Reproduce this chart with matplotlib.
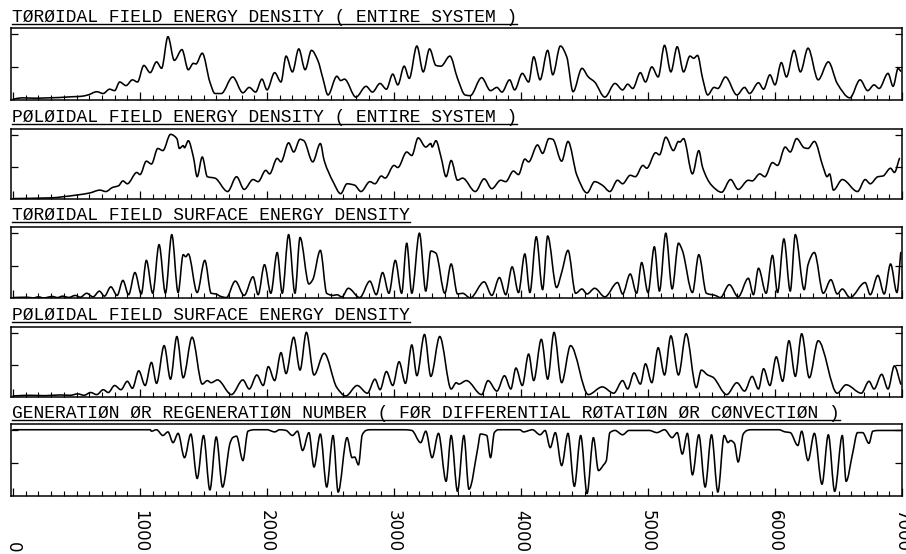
import numpy as np
import matplotlib
matplotlib.use("Agg")
import matplotlib.pyplot as plt
from matplotlib.path import Path
from matplotlib.patches import PathPatch
from matplotlib.lines import Line2D
from matplotlib.transforms import blended_transform_factory

# ---- data (time step, normalised value) ----
t_tor = [0, 70, 170, 280, 370, 460, 530, 590, 660, 710, 760, 800, 840, 890, 940, 980, 1030, 1080,
         1130, 1170, 1220, 1270, 1330, 1380, 1420, 1440, 1490, 1550, 1590, 1640, 1730, 1810, 1860,
         1910, 1960, 2000, 2060, 2110, 2150, 2200, 2250, 2300, 2350, 2400, 2440, 2480, 2550, 2580,
         2610, 2700, 2780, 2830, 2890, 2940, 2990, 3030, 3080, 3120, 3180, 3230, 3280, 3330, 3370,
         3440, 3500, 3560, 3600, 3690, 3760, 3810, 3850, 3910, 3950, 4010, 4060, 4100, 4150, 4210,
         4250, 4310, 4360, 4410, 4480, 4530, 4580, 4660, 4740, 4800, 4840, 4880, 4940, 4980, 5030,
         5080, 5130, 5180, 5230, 5280, 5330, 5360, 5390, 5430, 5470, 5520, 5550, 5610, 5700, 5760,
         5800, 5870, 5910, 5960, 6000, 6050, 6090, 6150, 6200, 6260, 6340, 6420, 6490, 6590, 6670,
         6730, 6780, 6820, 6890, 6930, 6970, 6990]
v_tor = [0.01, 0.03, 0.025, 0.03, 0.035, 0.045, 0.05, 0.07, 0.115, 0.09, 0.15, 0.13, 0.25, 0.20,
         0.28, 0.25, 0.48, 0.38, 0.53, 0.44, 0.88, 0.55, 0.70, 0.42, 0.51, 0.50, 0.65, 0.25, 0.09,
         0.09, 0.32, 0.10, 0.175, 0.11, 0.29, 0.14, 0.38, 0.25, 0.61, 0.39, 0.71, 0.42, 0.69, 0.55,
         0.30, 0.07, 0.33, 0.27, 0.29, 0.04, 0.19, 0.11, 0.23, 0.15, 0.36, 0.21, 0.47, 0.30, 0.75,
         0.39, 0.71, 0.48, 0.47, 0.61, 0.30, 0.07, 0.06, 0.31, 0.13, 0.175, 0.11, 0.28, 0.14, 0.37,
         0.25, 0.60, 0.28, 0.69, 0.35, 0.75, 0.60, 0.115, 0.44, 0.32, 0.25, 0.04, 0.23, 0.14, 0.22,
         0.16, 0.38, 0.25, 0.46, 0.32, 0.76, 0.39, 0.74, 0.39, 0.61, 0.58, 0.62, 0.30, 0.07, 0.175,
         0.16, 0.32, 0.07, 0.175, 0.09, 0.24, 0.15, 0.35, 0.21, 0.52, 0.32, 0.69, 0.39, 0.72, 0.28,
         0.53, 0.23, 0.03, 0.28, 0.13, 0.21, 0.16, 0.37, 0.19, 0.44, 0.40]

t_pol = [0, 290, 500, 605, 684, 730, 786, 830, 865, 900, 975, 1000, 1050, 1090, 1140, 1180, 1240,
         1290, 1310, 1340, 1350, 1380, 1420, 1450, 1490, 1530, 1590, 1690, 1760, 1820, 1890, 1930,
         1990, 2020, 2080, 2110, 2170, 2210, 2260, 2290, 2360, 2420, 2450, 2520, 2580, 2630, 2690,
         2740, 2810, 2850, 2900, 2930, 3000, 3030, 3100, 3140, 3190, 3250, 3290, 3300, 3330, 3370,
         3410, 3450, 3500, 3540, 3640, 3710, 3770, 3840, 3880, 3940, 3980, 4030, 4060, 4130, 4170,
         4220, 4250, 4320, 4370, 4440, 4520, 4580, 4640, 4700, 4760, 4800, 4860, 4900, 4960, 4990,
         5060, 5090, 5140, 5200, 5240, 5250, 5280, 5350, 5400, 5430, 5500, 5580, 5650, 5710, 5790,
         5820, 5880, 5920, 5980, 6020, 6080, 6120, 6170, 6230, 6260, 6310, 6380, 6410, 6430, 6460,
         6530, 6650, 6710, 6750, 6810, 6850, 6910, 6940, 6980]
v_pol = [0.01, 0.02, 0.06, 0.09, 0.13, 0.11, 0.17, 0.19, 0.26, 0.22, 0.38, 0.35, 0.54, 0.50, 0.72,
         0.69, 0.92, 0.86, 0.72, 0.76, 0.73, 0.83, 0.60, 0.32, 0.60, 0.32, 0.30, 0.11, 0.32, 0.14,
         0.28, 0.25, 0.41, 0.36, 0.58, 0.53, 0.80, 0.67, 0.85, 0.83, 0.53, 0.79, 0.55, 0.25, 0.08,
         0.22, 0.20, 0.11, 0.25, 0.22, 0.33, 0.30, 0.48, 0.45, 0.67, 0.62, 0.87, 0.74, 0.79, 0.74,
         0.83, 0.60, 0.32, 0.55, 0.27, 0.30, 0.11, 0.29, 0.15, 0.27, 0.25, 0.40, 0.35, 0.57, 0.53,
         0.77, 0.65, 0.86, 0.85, 0.54, 0.82, 0.34, 0.09, 0.25, 0.20, 0.11, 0.27, 0.22, 0.34, 0.32,
         0.48, 0.44, 0.66, 0.63, 0.88, 0.69, 0.82, 0.81, 0.86, 0.36, 0.69, 0.45, 0.20, 0.10, 0.28,
         0.14, 0.27, 0.26, 0.36, 0.32, 0.52, 0.48, 0.74, 0.67, 0.86, 0.73, 0.72, 0.82, 0.45, 0.32,
         0.36, 0.13, 0.28, 0.11, 0.28, 0.22, 0.32, 0.33, 0.44, 0.38, 0.58]

t_tor_srf = [0, 110, 160, 200, 240, 310, 350, 390, 440, 490, 530, 580, 630, 680, 720, 770, 820,
             865, 910, 960, 1010, 1050, 1100, 1150, 1200, 1250, 1300, 1340, 1360, 1380, 1450, 1510,
             1560, 1600, 1630, 1680, 1750, 1820, 1890, 1930, 1980, 2030, 2080, 2120, 2170, 2220,
             2260, 2330, 2360, 2420, 2470, 2520, 2550, 2590, 2640, 2730, 2810, 2860, 2910, 2960,
             3010, 3060, 3100, 3140, 3200, 3250, 3290, 3330, 3400, 3450, 3500, 3540, 3600, 3710,
             3770, 3830, 3880, 3930, 3980, 4030, 4070, 4120, 4170, 4210, 4280, 4320, 4370, 4430,
             4480, 4520, 4580, 4660, 4760, 4800, 4860, 4910, 4950, 5000, 5050, 5090, 5140, 5190,
             5240, 5270, 5350, 5400, 5460, 5530, 5570, 5640, 5710, 5790, 5830, 5870, 5930, 5980,
             6020, 6070, 6120, 6160, 6230, 6260, 6310, 6380, 6440, 6490, 6530, 6590, 6710, 6750,
             6810, 6860, 6910, 6960, 6990]
v_tor_srf = [0.01, 0.015, 0.005, 0.02, 0.005, 0.025, 0.01, 0.03, 0.012, 0.04, 0.015, 0.07, 0.02,
             0.10, 0.03, 0.16, 0.04, 0.25, 0.05, 0.36, 0.06, 0.53, 0.07, 0.75, 0.07, 0.89, 0.08,
             0.61, 0.58, 0.62, 0.08, 0.53, 0.07, 0.06, 0.03, 0.01, 0.24, 0.04, 0.30, 0.05, 0.47,
             0.07, 0.64, 0.07, 0.89, 0.07, 0.85, 0.20, 0.26, 0.67, 0.07, 0.04, 0.05, 0.02, 0.14,
             0.01, 0.24, 0.05, 0.36, 0.07, 0.53, 0.07, 0.77, 0.07, 0.91, 0.10, 0.66, 0.63, 0.07,
             0.48, 0.06, 0.07, 0.005, 0.23, 0.04, 0.29, 0.05, 0.44, 0.08, 0.62, 0.08, 0.86, 0.12,
             0.87, 0.15, 0.36, 0.67, 0.07, 0.13, 0.06, 0.14, 0.02, 0.22, 0.06, 0.34, 0.07, 0.50,
             0.08, 0.72, 0.10, 0.91, 0.13, 0.77, 0.67, 0.08, 0.61, 0.07, 0.04, 0.01, 0.19, 0.02,
             0.28, 0.05, 0.42, 0.07, 0.60, 0.08, 0.83, 0.10, 0.89, 0.12, 0.47, 0.64, 0.07, 0.26,
             0.06, 0.13, 0.01, 0.22, 0.05, 0.32, 0.06, 0.48, 0.08, 0.64]

t_pol_srf = [0, 130, 250, 370, 450, 510, 560, 610, 660, 710, 750, 800, 850, 900, 940, 990, 1040,
             1090, 1130, 1190, 1240, 1290, 1340, 1410, 1490, 1530, 1560, 1610, 1720, 1810, 1860,
             1920, 1970, 2010, 2060, 2110, 2150, 2210, 2260, 2310, 2370, 2450, 2550, 2620, 2710,
             2790, 2850, 2890, 2940, 2990, 3040, 3090, 3140, 3180, 3240, 3290, 3360, 3450, 3490,
             3510, 3570, 3690, 3740, 3810, 3870, 3920, 3960, 4010, 4060, 4100, 4160, 4210, 4260,
             4320, 4390, 4530, 4640, 4730, 4800, 4840, 4890, 4940, 4980, 5030, 5080, 5130, 5180,
             5240, 5300, 5380, 5420, 5470, 5510, 5620, 5700, 5760, 5820, 5870, 5910, 5960, 6010,
             6060, 6110, 6160, 6210, 6270, 6340, 6490, 6560, 6680, 6740, 6780, 6840, 6890, 6940,
             6990]
v_pol_srf = [0.01, 0.02, 0.015, 0.025, 0.02, 0.04, 0.02, 0.06, 0.03, 0.10, 0.06, 0.16, 0.10, 0.22,
             0.12, 0.37, 0.16, 0.49, 0.19, 0.73, 0.25, 0.86, 0.27, 0.85, 0.18, 0.23, 0.20, 0.24,
             0.03, 0.24, 0.11, 0.31, 0.16, 0.43, 0.23, 0.63, 0.33, 0.85, 0.38, 0.92, 0.31, 0.62,
             0.13, 0.01, 0.16, 0.05, 0.25, 0.10, 0.36, 0.16, 0.50, 0.19, 0.74, 0.30, 0.89, 0.29,
             0.86, 0.11, 0.20, 0.18, 0.23, 0.03, 0.23, 0.08, 0.30, 0.11, 0.41, 0.16, 0.61, 0.23,
             0.82, 0.25, 0.92, 0.20, 0.73, 0.03, 0.14, 0.05, 0.23, 0.11, 0.34, 0.18, 0.47, 0.20,
             0.70, 0.31, 0.87, 0.31, 0.90, 0.13, 0.38, 0.31, 0.28, 0.03, 0.20, 0.08, 0.29, 0.11,
             0.40, 0.16, 0.57, 0.22, 0.80, 0.29, 0.90, 0.27, 0.80, 0.05, 0.17, 0.05, 0.22, 0.11,
             0.32, 0.11, 0.44, 0.18]

t_gen = [0, 1080, 1090, 1130, 1180, 1220, 1260, 1300, 1350, 1400, 1450, 1500, 1550, 1600, 1650,
         1710, 1730, 1760, 1810, 1850, 1900, 2000, 2060, 2100, 2150, 2200, 2240, 2280, 2330, 2370,
         2420, 2470, 2520, 2560, 2630, 2670, 2690, 2720, 2750, 2780, 2810, 3080, 3140, 3210, 3250,
         3300, 3350, 3410, 3450, 3500, 3550, 3590, 3660, 3680, 3730, 3760, 3790, 3820, 3990, 4020,
         4090, 4150, 4190, 4230, 4270, 4320, 4370, 4420, 4470, 4520, 4570, 4610, 4650, 4670, 4700,
         4740, 4800, 4850, 5010, 5070, 5130, 5190, 5230, 5270, 5310, 5350, 5400, 5450, 5500, 5550,
         5600, 5630, 5650, 5680, 5710, 5750, 5780, 5810, 6030, 6080, 6120, 6180, 6210, 6260, 6310,
         6370, 6420, 6470, 6530, 6560, 6610, 6650, 6690, 6740, 6770, 6820, 6990]
v_gen = [0.92, 0.92, 0.90, 0.92, 0.84, 0.89, 0.74, 0.87, 0.53, 0.86, 0.24, 0.84, 0.08, 0.82, 0.12,
         0.74, 0.81, 0.83, 0.49, 0.90, 0.92, 0.92, 0.89, 0.92, 0.91, 0.84, 0.90, 0.63, 0.88, 0.40,
         0.86, 0.12, 0.84, 0.05, 0.81, 0.53, 0.54, 0.43, 0.85, 0.91, 0.92, 0.92, 0.91, 0.74, 0.90,
         0.53, 0.87, 0.20, 0.84, 0.06, 0.84, 0.09, 0.67, 0.86, 0.84, 0.53, 0.88, 0.92, 0.92, 0.89,
         0.92, 0.85, 0.91, 0.67, 0.88, 0.42, 0.87, 0.13, 0.84, 0.03, 0.81, 0.35, 0.43, 0.48, 0.88,
         0.91, 0.85, 0.91, 0.91, 0.88, 0.92, 0.81, 0.88, 0.58, 0.87, 0.29, 0.85, 0.12, 0.85, 0.05,
         0.84, 0.74, 0.77, 0.73, 0.47, 0.86, 0.91, 0.92, 0.92, 0.89, 0.88, 0.70, 0.90, 0.49, 0.87,
         0.16, 0.85, 0.06, 0.84, 0.20, 0.58, 0.88, 0.88, 0.73, 0.90, 0.91, 0.91]

titles = [
    "TØRØIDAL FIELD ENERGY DENSITY ( ENTIRE SYSTEM )",
    "PØLØIDAL FIELD ENERGY DENSITY ( ENTIRE SYSTEM )",
    "TØRØIDAL FIELD SURFACE ENERGY DENSITY",
    "PØLØIDAL FIELD SURFACE ENERGY DENSITY",
    "GENERATIØN ØR REGENERATIØN NUMBER ( FØR DIFFERENTIAL RØTATIØN ØR CØNVECTIØN )",
]
series = [(t_tor, v_tor), (t_pol, v_pol), (t_tor_srf, v_tor_srf),
          (t_pol_srf, v_pol_srf), (t_gen, v_gen)]
tick_vals = [0, 1000, 2000, 3000, 4000, 5000, 6000, 7000]
tick_labels = [str(v) for v in tick_vals]


def smooth_path(x, y):
    """Cubic hermite (monotone) path through the points, drawn as bezier segments."""
    x = np.asarray(x, float)
    y = np.asarray(y, float)
    h = np.diff(x)
    d = np.diff(y) / h
    m = np.zeros_like(y)
    for k in range(1, len(y) - 1):
        if d[k - 1] * d[k] > 0:
            w1 = 2 * h[k] + h[k - 1]
            w2 = h[k] + 2 * h[k - 1]
            m[k] = (w1 + w2) / (w1 / d[k - 1] + w2 / d[k])
    m[0], m[-1] = d[0], d[-1]
    verts = [(x[0], y[0])]
    codes = [Path.MOVETO]
    for k in range(len(h)):
        verts += [(x[k] + h[k] / 3, y[k] + m[k] * h[k] / 3),
                  (x[k + 1] - h[k] / 3, y[k + 1] - m[k + 1] * h[k] / 3),
                  (x[k + 1], y[k + 1])]
        codes += [Path.CURVE4] * 3
    return Path(verts, codes)


W, H = 906, 554
fig = plt.figure(figsize=(W / 100, H / 100), dpi=100)
fig.patch.set_facecolor("white")

box_left, box_right = 11, 902
boxes = [(28, 100), (128.7, 199.3), (226.7, 298.3), (326.7, 396.7), (424, 495.7)]
title_font = "Liberation Mono"

axes = []
title_texts = []
for (top, bot), title, (t, v) in zip(boxes, titles, series):
    ax = fig.add_axes([box_left / W, 1 - bot / H, (box_right - box_left) / W, (bot - top) / H])
    ax.add_patch(PathPatch(smooth_path(t, v), fill=False, lw=1.15, edgecolor="black",
                           capstyle="round", joinstyle="round"))
    ax.set_xlim(-16, 6990)
    ax.set_ylim(0, 1)
    ax.set_xticks(tick_vals)
    ax.set_xticks(np.arange(0, 7000, 100), minor=True)
    ax.set_xticklabels([])
    ax.set_yticks([0.455, 0.91])
    ax.set_yticklabels([])
    ax.tick_params(axis="x", which="major", direction="in", length=6, width=0.9)
    ax.tick_params(axis="x", which="minor", direction="in", length=3.5, width=0.8)
    ax.tick_params(axis="y", direction="in", length=5, width=0.9, right=True)
    for s in ax.spines.values():
        s.set_linewidth(1.1)
    txt = fig.text((box_left + 1) / W, 1 - (top - 6.5) / H, title, fontfamily=title_font,
                   fontsize=13, va="baseline", ha="left")
    axes.append(ax)
    title_texts.append((txt, top))

# rotated time labels under the last panel, aligned on their ends
ax = axes[-1]
trans = blended_transform_factory(ax.transData, fig.transFigure)
for tv, lab in zip(tick_vals, tick_labels):
    ax.text(tv, 1.5 / H, lab, transform=trans, rotation=270, ha="center", va="bottom",
            fontfamily="DejaVu Sans", fontsize=12, clip_on=False)

# underline the titles
fig.canvas.draw()
renderer = fig.canvas.get_renderer()
for txt, top in title_texts:
    bb = txt.get_window_extent(renderer)
    y = 1 - (top - 4.5) / H
    fig.add_artist(Line2D([bb.x0 / W, bb.x1 / W], [y, y], transform=fig.transFigure,
                          color="black", lw=1.0))

fig.savefig("out.png", dpi=100)
